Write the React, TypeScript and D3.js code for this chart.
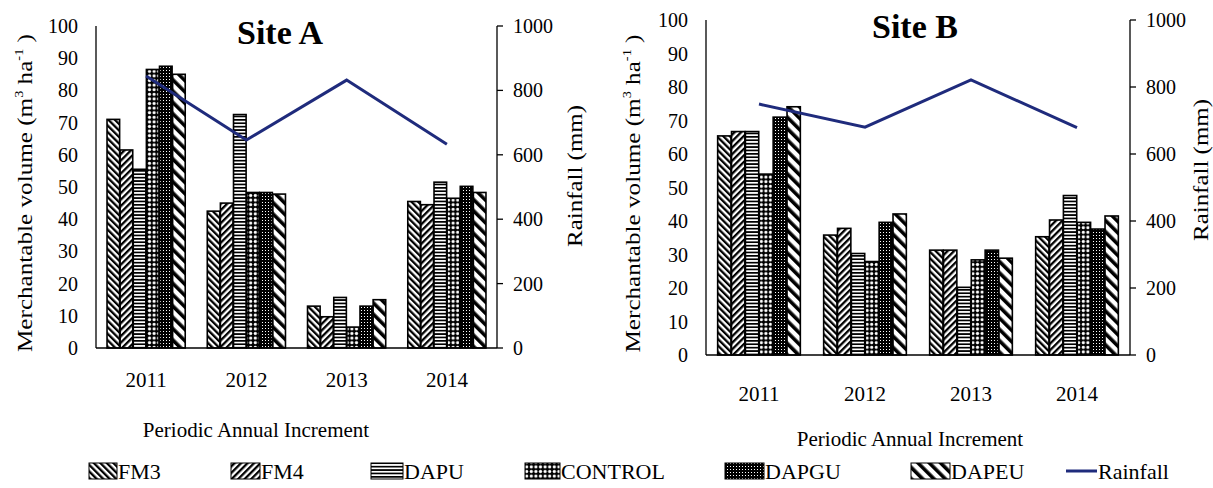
import React from 'react';
import * as d3 from 'd3';

// categories
const years = ['2011', '2012', '2013', '2014'];
const series = ['FM3', 'FM4', 'DAPU', 'CONTROL', 'DAPGU', 'DAPEU'];
const volumeTicks = [0, 10, 20, 30, 40, 50, 60, 70, 80, 90, 100];
const rainTicks = [0, 200, 400, 600, 800, 1000];

// Site A - merchantable volume (m3 ha-1), one value per year
const siteA_FM3 = [71, 42.5, 13, 45.5];
const siteA_FM4 = [61.5, 45, 9.7, 44.5];
const siteA_DAPU = [55.5, 72.5, 15.7, 51.5];
const siteA_CONTROL = [86.5, 48.3, 6.5, 46.5];
const siteA_DAPGU = [87.5, 48.3, 13, 50.2];
const siteA_DAPEU = [85, 47.8, 15, 48.3];
const siteA_rain = [845, 646, 832, 633];

// Site B
const siteB_FM3 = [65.4, 35.8, 31.3, 35.3];
const siteB_FM4 = [66.7, 37.8, 31.3, 40.3];
const siteB_DAPU = [66.7, 30.3, 20.2, 47.6];
const siteB_CONTROL = [54, 27.9, 28.4, 39.6];
const siteB_DAPGU = [71, 39.6, 31.3, 37.6];
const siteB_DAPEU = [74.1, 42.1, 28.9, 41.5];
const siteB_rain = [749, 680, 821, 679];

const FONT = 'Liberation Serif, Times New Roman, DejaVu Serif, serif';
const RAIN_COLOR = '#1f2b7c';

const Panel = ({ title, titleX, x0, x1, top, bottom, values, rain, leftTitleX, rightTitleX, rightTitleY, xLabelY, xTitleX, xTitleY }) => {
  const x = d3.scaleBand().domain(years).range([x0, x1]).paddingInner(0.22).paddingOuter(0.11);
  const inner = d3.scaleBand().domain(series).range([0, x.bandwidth()]).paddingInner(0.04);
  const y = d3.scaleLinear().domain([0, 100]).range([bottom, top]);
  const yr = d3.scaleLinear().domain([0, 1000]).range([bottom, top]);
  const line = d3.line<number>()
    .x((_, i) => x(years[i]) + x.bandwidth() / 2)
    .y((d) => yr(d));
  const midY = (top + bottom) / 2;

  return (
    <g style={{ fontFamily: FONT }} fill="#000">
      <text x={titleX} y={top + 18} fontSize={34} fontWeight="bold" textAnchor="middle">{title}</text>

      {years.map((yrLabel, yi) =>
        series.map((s, si) => {
          const v = values[si][yi];
          return (
            <rect key={yrLabel + s}
              x={x(yrLabel) + inner(s)} y={y(v)}
              width={inner.bandwidth()} height={bottom - y(v)}
              fill={`url(#p${s})`} stroke="#000" strokeWidth={1.6} />
          );
        })
      )}

      {/* axes */}
      <line x1={x0} x2={x0} y1={top} y2={bottom} stroke="#000" strokeWidth={1.3} />
      <line x1={x0} x2={x1} y1={bottom} y2={bottom} stroke="#000" strokeWidth={1.3} />
      <line x1={x1} x2={x1} y1={top} y2={bottom} stroke="#000" strokeWidth={1.3} />
      {volumeTicks.map((t) => (
        <text key={t} x={x0 - 18} y={y(t)} fontSize={20} textAnchor="end" dominantBaseline="central">{t}</text>
      ))}
      {rainTicks.map((t) => (
        <g key={t}>
          <line x1={x1} x2={x1 + 6} y1={yr(t)} y2={yr(t)} stroke="#000" strokeWidth={1.3} />
          <text x={x1 + 16} y={yr(t)} fontSize={20} dominantBaseline="central">{t}</text>
        </g>
      ))}
      {years.map((t) => (
        <text key={t} x={x(t) + x.bandwidth() / 2} y={xLabelY} fontSize={21} textAnchor="middle">{t}</text>
      ))}
      <text x={xTitleX} y={xTitleY} fontSize={21} textAnchor="middle">Periodic Annual Increment</text>

      <text transform={`translate(${leftTitleX},${midY + 6}) rotate(-90)`} fontSize={21} textAnchor="middle"
        dominantBaseline="central" textLength={318} lengthAdjust="spacingAndGlyphs">
        Merchantable volume (m<tspan dy={-6} fontSize={12}>3</tspan><tspan dy={6}> ha</tspan>
        <tspan dy={-6} fontSize={12}>-1</tspan><tspan dy={6}> )</tspan>
      </text>
      <text transform={`translate(${rightTitleX},${rightTitleY}) rotate(-90)`} fontSize={21} textAnchor="middle"
        dominantBaseline="central" textLength={142} lengthAdjust="spacingAndGlyphs">Rainfall (mm)</text>

      <path d={line(rain)} fill="none" stroke={RAIN_COLOR} strokeWidth={3} />
    </g>
  );
};

const legendLayout = [
  { x: 89, w: 28 }, { x: 231, w: 29 }, { x: 371, w: 32 },
  { x: 525, w: 35 }, { x: 725, w: 39 }, { x: 911, w: 39 },
];

const App = () => {
  return (
    <div>
      <style>{'body{margin:0}'}</style>
      <svg width={1213} height={488} style={{ display: 'block', background: '#fff' }}>
        <defs>
          <pattern id="pFM3" patternUnits="userSpaceOnUse" width={4.6} height={4.6} patternTransform="rotate(-45)">
            <rect width={4.6} height={4.6} fill="#fff" />
            <rect width={2.3} height={4.6} fill="#000" />
          </pattern>
          <pattern id="pFM4" patternUnits="userSpaceOnUse" width={4.6} height={4.6} patternTransform="rotate(45)">
            <rect width={4.6} height={4.6} fill="#fff" />
            <rect width={2.3} height={4.6} fill="#000" />
          </pattern>
          <pattern id="pDAPU" patternUnits="userSpaceOnUse" width={4} height={3.4}>
            <rect width={4} height={3.4} fill="#fff" />
            <rect width={4} height={1.7} fill="#000" />
          </pattern>
          <pattern id="pCONTROL" patternUnits="userSpaceOnUse" width={4.6} height={4.6}>
            <rect width={4.6} height={4.6} fill="#000" />
            <circle cx={2.3} cy={2.3} r={1.6} fill="#fff" />
          </pattern>
          <pattern id="pDAPGU" patternUnits="userSpaceOnUse" width={3} height={3}>
            <rect width={3} height={3} fill="#000" />
            <rect x={1} y={1} width={1} height={1} fill="#fff" />
          </pattern>
          <pattern id="pDAPEU" patternUnits="userSpaceOnUse" width={8} height={8} patternTransform="rotate(-45)">
            <rect width={8} height={8} fill="#fff" />
            <rect width={3.6} height={8} fill="#000" />
          </pattern>
        </defs>

        <Panel title="Site A" titleX={280} x0={96} x1={497} top={26} bottom={348}
          values={[siteA_FM3, siteA_FM4, siteA_DAPU, siteA_CONTROL, siteA_DAPGU, siteA_DAPEU]}
          rain={siteA_rain} leftTitleX={25} rightTitleX={575} rightTitleY={176}
          xLabelY={387} xTitleX={256} xTitleY={437} />
        <Panel title="Site B" titleX={915} x0={706} x1={1130} top={20} bottom={355}
          values={[siteB_FM3, siteB_FM4, siteB_DAPU, siteB_CONTROL, siteB_DAPGU, siteB_DAPEU]}
          rain={siteB_rain} leftTitleX={633} rightTitleX={1201} rightTitleY={170}
          xLabelY={401} xTitleX={910} xTitleY={446} />

        <g style={{ fontFamily: FONT }} fontSize={22}>
          {series.map((s, i) => (
            <g key={s}>
              <rect x={legendLayout[i].x} y={463} width={legendLayout[i].w} height={16}
                fill={`url(#p${s})`} stroke="#000" strokeWidth={1} />
              <text x={legendLayout[i].x + legendLayout[i].w + 1} y={479}>{s}</text>
            </g>
          ))}
          <line x1={1066} x2={1097} y1={471} y2={471} stroke={RAIN_COLOR} strokeWidth={3} />
          <text x={1098} y={479}>Rainfall</text>
        </g>
      </svg>
    </div>
  );
};

export default App;
